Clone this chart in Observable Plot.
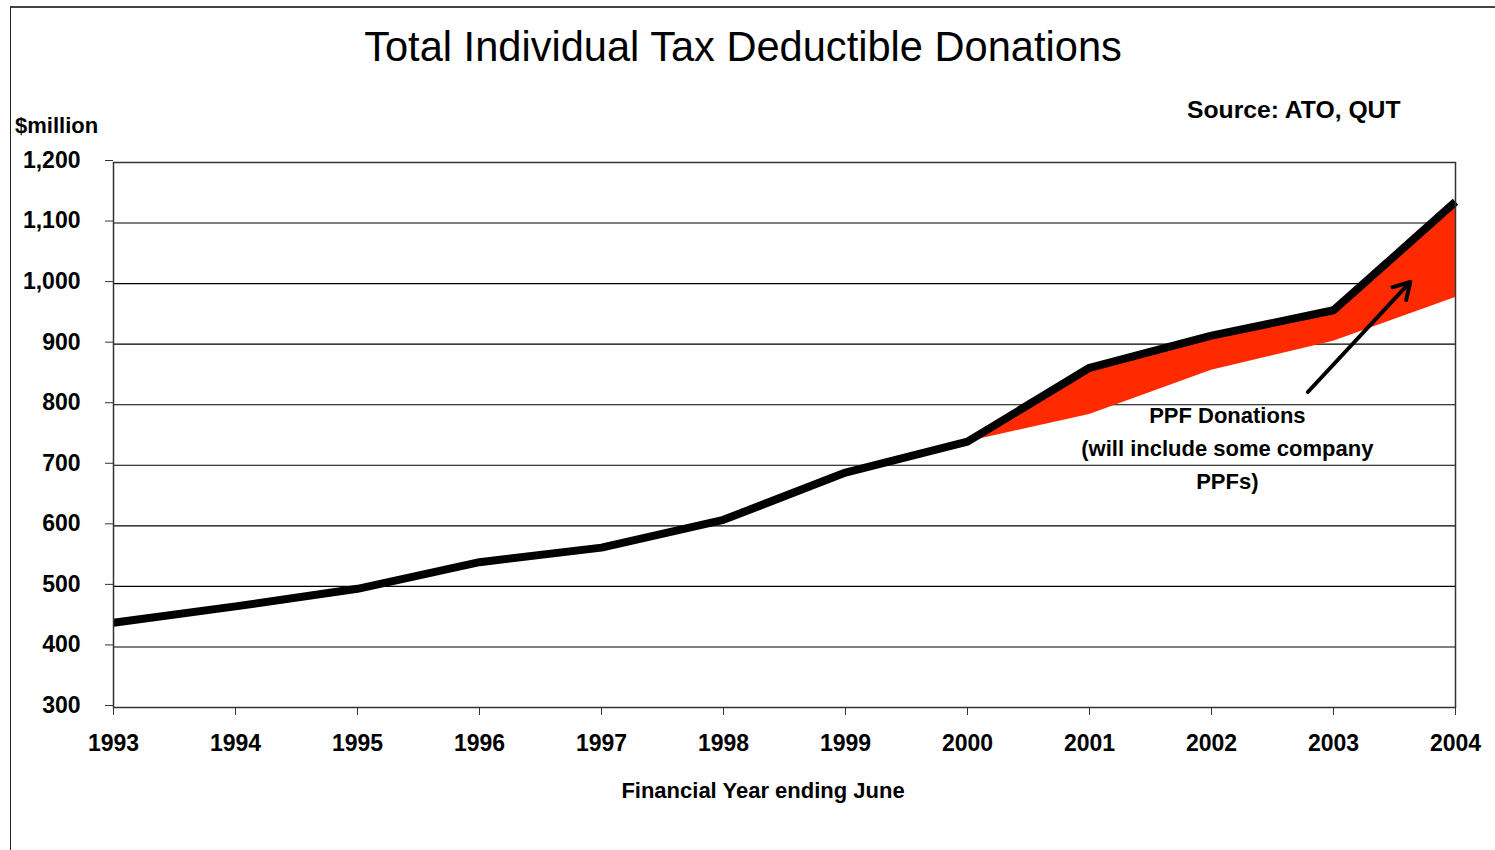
<!DOCTYPE html>
<html>
<head>
<meta charset="utf-8">
<script src="https://cdn.jsdelivr.net/npm/d3@7"></script>
<script src="https://cdn.jsdelivr.net/npm/@observablehq/plot@0.6"></script>
<style>
  html, body { margin: 0; padding: 0; background: #fff; }
  #wrap { position: relative; width: 1495px; height: 850px; overflow: hidden; }
  #border { position: absolute; left: 10px; top: 6px; width: 1600px; height: 900px;
            border-top: 2px solid #444; border-left: 1.5px solid #222; pointer-events: none; }
  svg text { font-family: "Liberation Sans", Arial, sans-serif; }
</style>
</head>
<body>
<div id="wrap"><div id="border"></div></div>
<script>
// ---- data ----
const years = [1993, 1994, 1995, 1996, 1997, 1998, 1999, 2000, 2001, 2002, 2003, 2004];
const totalDonations = [440, 467, 496, 540, 564, 610, 688, 739, 861, 914, 956, 1135];
const ppfYears = [2000, 2001, 2002, 2003, 2004];
const excludingPPF = [739, 784, 857, 905, 977];
const yTicks = [300, 400, 500, 600, 700, 800, 900, 1000, 1100, 1200];
const gridValues = [400, 500, 600, 700, 800, 900, 1000, 1100];
const arrowX = [2002.79, 2003.63];
const arrowY = [821, 1003];
const noteX = [2002.13];
const noteY = [732];
const noteText = ["PPF Donations\n(will include some company\nPPFs)"];

const titleText = "Total Individual Tax Deductible Donations";
const sourceText = "Source: ATO, QUT";
const yUnitText = "$million";
const xLabelText = "Financial Year ending June";

// ---- tables ----
const totalData = years.map((y, i) => ({year: y, value: totalDonations[i]}));
const ppfData = ppfYears.map((y, i) => ({
  year: y,
  low: excludingPPF[i],
  high: totalDonations[years.indexOf(y)]
}));
const arrowData = [{x1: arrowX[0], y1: arrowY[0], x2: arrowX[1], y2: arrowY[1]}];
const noteData = noteX.map((x, i) => ({x, y: noteY[i], text: noteText[i]}));

const chart = Plot.plot({
  width: 1495,
  height: 850,
  marginLeft: 113,
  marginRight: 40,
  marginTop: 162,
  marginBottom: 143,
  style: {
    fontFamily: '"Liberation Sans", Arial, sans-serif',
    fontSize: "22px",
    fontWeight: "bold",
    color: "#000",
    background: "transparent",
    overflow: "visible"
  },
  x: {domain: [1993, 2004]},
  y: {domain: [300, 1200]},
  marks: [
    Plot.ruleY(gridValues, {stroke: "#000", strokeWidth: 1.1}),
    Plot.areaY(ppfData, {x: "year", y1: "low", y2: "high", fill: "#ff2a00"}),
    Plot.line(totalData, {x: "year", y: "value", stroke: "#000", strokeWidth: 8,
                          strokeLinejoin: "miter", strokeLinecap: "butt"}),
    Plot.frame({stroke: "#333", strokeWidth: 1.5}),
    Plot.axisX({ticks: years, tickFormat: d => String(d), tickSize: 8, tickPadding: 19,
                label: null, fontSize: 23, fontWeight: "bold", stroke: "#333"}),
    Plot.axisY({ticks: yTicks, tickFormat: d3.format(","), tickSize: 8, tickPadding: 25,
                label: null, fontSize: 23, fontWeight: "bold", stroke: "#333", dy: -2}),
    Plot.arrow(arrowData, {x1: "x1", y1: "y1", x2: "x2", y2: "y2", stroke: "#000",
                           strokeWidth: 4, headLength: 7}),
    Plot.text(noteData, {x: "x", y: "y", text: "text", fontSize: 22, fontWeight: "bold",
                         lineHeight: 1.5, lineAnchor: "middle", textAnchor: "middle", fill: "#000"})
  ]
});

document.getElementById("wrap").prepend(chart);

// titles and labels as real text
const svg = d3.select(chart);
svg.append("text").attr("x", 743).attr("y", 61).attr("text-anchor", "middle")
  .attr("font-size", 41.6).attr("font-weight", "normal").attr("fill", "#000").text(titleText);
svg.append("text").attr("x", 1187).attr("y", 118).attr("text-anchor", "start")
  .attr("font-size", 24.7).attr("font-weight", "bold").attr("fill", "#000").text(sourceText);
svg.append("text").attr("x", 15).attr("y", 133).attr("text-anchor", "start")
  .attr("font-size", 22).attr("font-weight", "bold").attr("fill", "#000").text(yUnitText);
svg.append("text").attr("x", 763).attr("y", 798).attr("text-anchor", "middle")
  .attr("font-size", 22).attr("font-weight", "bold").attr("fill", "#000").text(xLabelText);
</script>
</body>
</html>
